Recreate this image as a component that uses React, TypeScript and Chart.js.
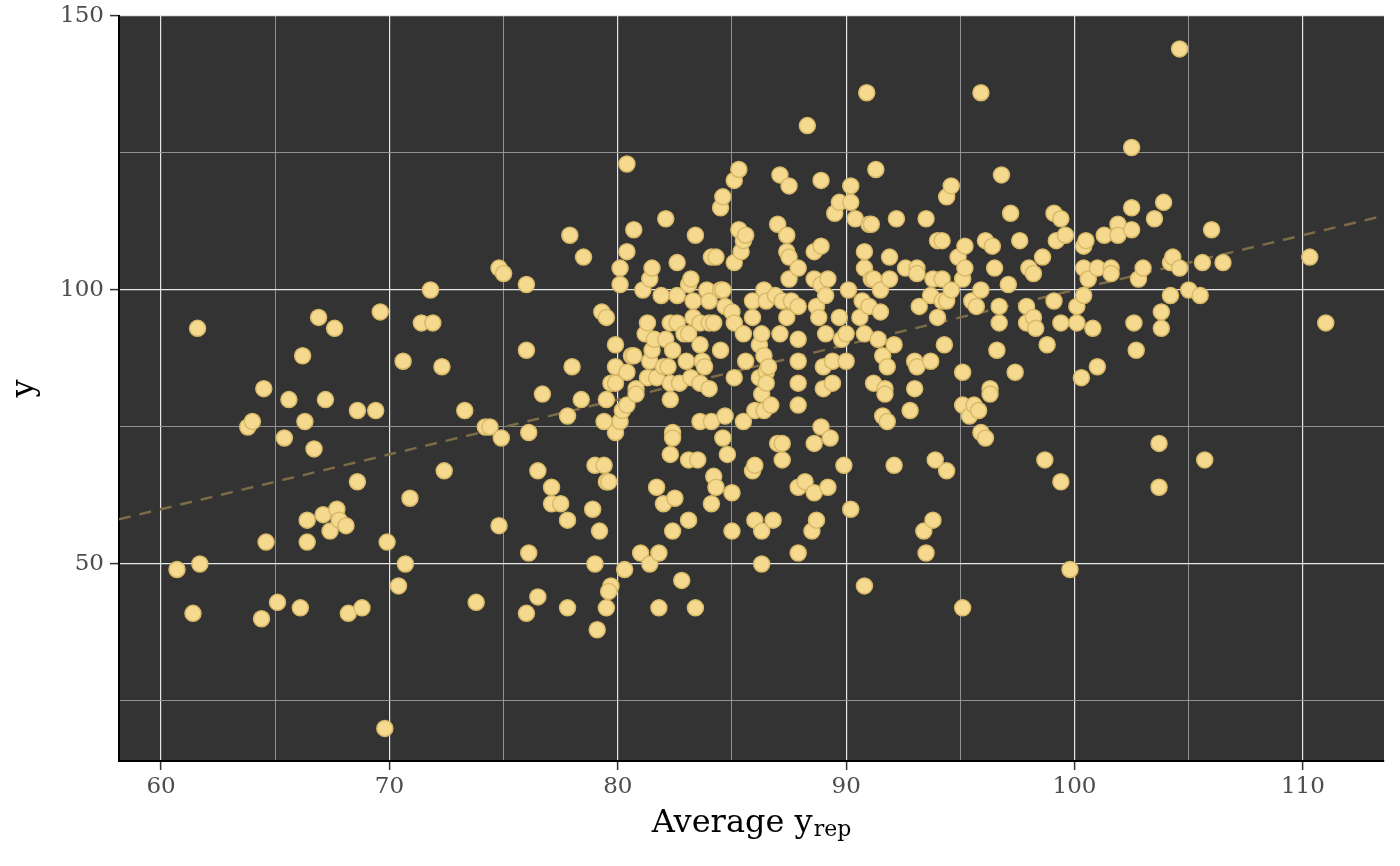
import { useEffect, useRef } from "react";
import { Chart, registerables } from "chart.js";

Chart.register(...registerables);

// Average y_rep (x) vs observed y, one pair per observation
const scatterPairs: [number, number][] = [
  [60.7, 49], [61.4, 41], [61.6, 93], [61.7, 50], [63.8, 75], [64.0, 76], [64.4, 40], [64.5, 82],
  [64.6, 54], [65.1, 43], [65.4, 73], [65.6, 80], [66.1, 42], [66.2, 88], [66.4, 58], [66.4, 54],
  [66.3, 76], [66.7, 71], [66.9, 95], [67.1, 59], [67.2, 80], [67.4, 56], [67.6, 93], [67.7, 60],
  [67.8, 58], [68.1, 57], [68.2, 41], [68.6, 65], [68.6, 78], [68.8, 42], [69.4, 78], [69.6, 96],
  [69.8, 20], [69.9, 54], [70.4, 46], [70.6, 87], [70.7, 50], [70.9, 62], [71.4, 94], [71.9, 94],
  [71.8, 100], [72.3, 86], [72.4, 67], [73.3, 78], [73.8, 43], [74.2, 75], [74.4, 75], [74.8, 104],
  [75.0, 103], [74.9, 73], [74.8, 57],
  [76.0, 101], [76.0, 89], [76.7, 81], [76.1, 74], [76.5, 67], [76.1, 52], [76.5, 44], [76.0, 41],
  [77.1, 64], [77.1, 61], [77.5, 61], [77.8, 58], [77.8, 77], [77.8, 42], [77.9, 110], [78.0, 86],
  [78.4, 80], [78.5, 106], [78.9, 60], [79.0, 68], [79.0, 50], [79.1, 38], [79.2, 56], [79.3, 96],
  [79.5, 95], [79.4, 68], [79.5, 65], [79.6, 65], [79.5, 80], [79.4, 76], [79.9, 74], [79.5, 42],
  [79.7, 46], [79.6, 45], [79.7, 83], [79.9, 83], [79.9, 86], [79.9, 90],
  [80.1, 104], [80.1, 101], [80.1, 76], [80.2, 78], [80.3, 49], [80.4, 123], [80.4, 107], [80.4, 85],
  [80.4, 79], [80.6, 88], [80.7, 88], [80.7, 111], [80.8, 82], [80.8, 81], [81.0, 52], [81.1, 100],
  [81.2, 92], [81.3, 94], [81.3, 84], [81.4, 87], [81.4, 102], [81.4, 50], [81.5, 104], [81.5, 89],
  [81.6, 91], [81.7, 84], [81.7, 64], [81.8, 52], [81.8, 42], [81.9, 99], [82.0, 86], [82.0, 61],
  [82.1, 113], [82.1, 91], [82.2, 86], [82.3, 94], [82.3, 83], [82.3, 80], [82.3, 70], [82.4, 89],
  [82.4, 74], [82.4, 73], [82.4, 56], [82.5, 62], [82.6, 105], [82.6, 99], [82.6, 94], [82.7, 83],
  [82.8, 47], [82.9, 92], [83.1, 92], [83.1, 101], [83.1, 69], [83.1, 58], [83.2, 102], [83.2, 84],
  [83.3, 98], [83.3, 95], [83.4, 110], [83.4, 42], [83.5, 69], [83.6, 94], [83.6, 90], [83.6, 83],
  [83.6, 76], [83.7, 87], [83.8, 86], [83.9, 100], [83.0, 87], [84.0, 98], [84.0, 94], [84.0, 82],
  [84.1, 106], [84.1, 76], [84.1, 61], [84.2, 94], [84.2, 66], [84.3, 106], [84.3, 64], [84.5, 100],
  [84.5, 115], [84.5, 89], [84.6, 100], [84.6, 117], [84.6, 73], [84.7, 97], [84.7, 77], [84.8, 70],
  [85.0, 96], [85.0, 63], [85.0, 56],
  [85.1, 120], [85.1, 105], [85.1, 94], [85.1, 84], [85.3, 122], [85.3, 111], [85.4, 107], [85.5, 109],
  [85.5, 92], [85.5, 76], [85.6, 110], [85.6, 87], [85.9, 98], [85.9, 95], [85.9, 67], [86.0, 68],
  [86.0, 78], [86.0, 58], [86.2, 90], [86.2, 84], [86.3, 92], [86.3, 81], [86.3, 56], [86.3, 50],
  [86.4, 100], [86.4, 88], [86.4, 78], [86.5, 98], [86.5, 85], [86.5, 83], [86.6, 86], [86.7, 79],
  [86.8, 58], [86.9, 99], [87.0, 112], [87.0, 72], [87.1, 121], [87.1, 92], [87.2, 98], [87.2, 72],
  [87.2, 69], [87.4, 110], [87.4, 107], [87.4, 95], [87.5, 119], [87.5, 106], [87.6, 98], [87.5, 102],
  [87.9, 104], [87.9, 97], [87.9, 91], [87.9, 87], [87.9, 83], [87.9, 79], [87.9, 64], [87.9, 52],
  [88.2, 65], [88.3, 130], [88.5, 56], [88.6, 107], [88.6, 102], [88.6, 72], [88.6, 63], [88.7, 97],
  [88.7, 58], [88.8, 95], [88.9, 120], [88.9, 108], [88.9, 101], [88.9, 75], [89.0, 86], [89.0, 82],
  [89.1, 99], [89.1, 92], [89.2, 102], [89.2, 64], [89.3, 73], [89.4, 87], [89.4, 83], [89.5, 114],
  [89.7, 116], [89.7, 95], [89.8, 91], [89.9, 68],
  [90.0, 92], [90.0, 87], [90.1, 100], [90.2, 119], [90.2, 116], [90.2, 60], [90.4, 113], [90.6, 95],
  [90.7, 98], [90.8, 107], [90.8, 104], [90.8, 92], [90.8, 46], [90.9, 136], [91.0, 112], [91.0, 97],
  [91.1, 112], [91.1, 102], [91.2, 102], [91.2, 83], [91.3, 122], [91.4, 91], [91.5, 100], [91.5, 96],
  [91.6, 88], [91.6, 77], [91.7, 82], [91.7, 81], [91.8, 86], [91.8, 76], [91.9, 106], [91.9, 102],
  [92.1, 90], [92.1, 68], [92.2, 113], [92.6, 104], [92.8, 78], [93.0, 87], [93.0, 82], [93.1, 104],
  [93.1, 103], [93.1, 86], [93.2, 97], [93.4, 56], [93.5, 113], [93.5, 52], [93.7, 99], [93.7, 87],
  [93.8, 102], [93.8, 58], [93.9, 69], [94.0, 109], [94.0, 95], [94.2, 109], [94.2, 102], [94.2, 98],
  [94.3, 90], [94.4, 117], [94.4, 98], [94.4, 67], [94.6, 119], [94.6, 100], [94.9, 106],
  [95.1, 102], [95.1, 85], [95.1, 79], [95.1, 42], [95.2, 108], [95.2, 104], [95.4, 77], [95.5, 98],
  [95.6, 79], [95.7, 97], [95.8, 78], [95.9, 136], [95.9, 100], [95.9, 74], [96.1, 109], [96.1, 73],
  [96.3, 82], [96.3, 81], [96.4, 108], [96.5, 104], [96.6, 89], [96.7, 97], [96.7, 94], [96.8, 121],
  [97.1, 101], [97.2, 114], [97.4, 85], [97.6, 109], [97.9, 97], [97.9, 94], [98.0, 104], [98.2, 103],
  [98.2, 95], [98.3, 93], [98.6, 106], [98.7, 69], [98.8, 90], [99.1, 114], [99.1, 98], [99.2, 109],
  [99.4, 113], [99.4, 94], [99.4, 65], [99.6, 110], [99.8, 49],
  [100.1, 97], [100.1, 94], [100.3, 84], [100.4, 108], [100.5, 109], [100.4, 104], [100.6, 102], [100.4, 99],
  [100.8, 93], [101.0, 104], [101.0, 86], [101.3, 110], [101.6, 104], [101.6, 103], [101.9, 112], [101.9, 110],
  [102.5, 111], [102.5, 126], [102.5, 115], [102.6, 94], [102.7, 89], [102.8, 102], [103.0, 104], [103.5, 113],
  [103.7, 72], [103.7, 64], [103.8, 96], [103.8, 93], [103.9, 116], [104.2, 105], [104.2, 99], [104.3, 106],
  [104.6, 104], [104.6, 144], [105.0, 100], [105.5, 99], [105.6, 105], [105.7, 69], [106.0, 111], [106.5, 105],
  [110.3, 106], [111.0, 94],
];

const xLimits = [58.16, 113.55];
const yLimits = [14.05, 150];
const xMajorTicks = [60, 70, 80, 90, 100, 110];
const yMajorTicks = [50, 100, 150];
const xStep = 5;
const yStep = 25;
// reference line y = x across the x range
const refLineX = [58.16, 113.55];

const FONT = '"DejaVu Serif", "Liberation Serif", serif';

export default function App() {
  const canvasRef = useRef<HTMLCanvasElement | null>(null);

  useEffect(() => {
    const canvas = canvasRef.current;
    if (!canvas) return;

    const panelBg = {
      id: "panelBg",
      beforeDraw(chart: any) {
        const { ctx, chartArea: a } = chart;
        ctx.save();
        ctx.fillStyle = "#333333";
        ctx.fillRect(a.left, a.top, a.right - a.left, a.bottom - a.top);
        ctx.restore();
      },
    };

    const titles = {
      id: "titles",
      afterDraw(chart: any) {
        const { ctx, chartArea: a } = chart;
        ctx.save();
        ctx.fillStyle = "#000000";
        ctx.textBaseline = "alphabetic";
        ctx.textAlign = "left";
        const main = "Average y";
        const sub = "rep";
        ctx.font = `32px ${FONT}`;
        const w1 = ctx.measureText(main).width;
        ctx.font = `22px ${FONT}`;
        const w2 = ctx.measureText(sub).width;
        const cx = (a.left + a.right) / 2;
        const start = cx - (w1 + 1 + w2) / 2;
        ctx.font = `32px ${FONT}`;
        ctx.fillText(main, start, 831.5);
        ctx.font = `22px ${FONT}`;
        ctx.fillText(sub, start + w1 + 1, 836);

        ctx.translate(32.5, (a.top + a.bottom) / 2);
        ctx.rotate(-Math.PI / 2);
        ctx.textAlign = "center";
        ctx.font = `32px ${FONT}`;
        ctx.fillText("y", 0, 0);
        ctx.restore();
      },
    };

    const isMajorX = (v: number) => xMajorTicks.some((t) => Math.abs(t - v) < 1e-6);
    const isMajorY = (v: number) => yMajorTicks.some((t) => Math.abs(t - v) < 1e-6);

    const chart = new Chart(canvas, {
      type: "scatter",
      data: {
        datasets: [
          {
            type: "scatter",
            data: scatterPairs.map(([x, y]) => ({ x, y })),
            backgroundColor: "#f5d98f",
            borderColor: "#d8ba68",
            borderWidth: 1.5,
            pointRadius: 8,
            order: 1,
          } as any,
          {
            type: "line",
            data: refLineX.map((x) => ({ x, y: x })),
            borderColor: "#7b6b47",
            borderWidth: 2.5,
            borderDash: [12, 9],
            pointRadius: 0,
            fill: false,
            showLine: true,
            order: 2,
          } as any,
        ],
      },
      options: {
        responsive: false,
        animation: false,
        devicePixelRatio: 1,
        events: [],
        layout: { padding: { top: 16, right: 16, left: 0, bottom: 0 } },
        plugins: { legend: { display: false }, tooltip: { enabled: false } },
        scales: {
          x: {
            type: "linear",
            min: xLimits[0],
            max: xLimits[1],
            afterFit: (s: any) => {
              s.height = 105;
              s.paddingLeft = 0;
              s.paddingRight = 0;
            },
            ticks: {
              stepSize: xStep,
              includeBounds: false,
              autoSkip: false,
              maxRotation: 0,
              padding: 3,
              color: "#4d4d4d",
              font: { family: FONT, size: 23 },
              callback: (v: any) => (isMajorX(Number(v)) ? String(v) : ""),
            },
            grid: {
              color: (c: any) => (c.tick && isMajorX(c.tick.value) ? "#e6e6e6" : "#9c9c9c"),
              lineWidth: (c: any) => (c.tick && isMajorX(c.tick.value) ? 1.2 : 0.9),
              tickColor: (c: any) => (c.tick && isMajorX(c.tick.value) ? "#333333" : "rgba(0,0,0,0)"),
              tickLength: 9,
              tickWidth: 1.5,
              drawTicks: true,
            },
            border: { display: true, color: "#000000", width: 2 },
          },
          y: {
            type: "linear",
            min: yLimits[0],
            max: yLimits[1],
            afterFit: (s: any) => {
              s.width = 119;
              s.paddingTop = 0;
              s.paddingBottom = 0;
            },
            ticks: {
              stepSize: yStep,
              includeBounds: false,
              autoSkip: false,
              padding: 6,
              color: "#4d4d4d",
              font: { family: FONT, size: 23 },
              callback: (v: any) => (isMajorY(Number(v)) ? String(v) : ""),
            },
            grid: {
              color: (c: any) => (c.tick && isMajorY(c.tick.value) ? "#e6e6e6" : "#9c9c9c"),
              lineWidth: (c: any) => (c.tick && isMajorY(c.tick.value) ? 1.2 : 0.9),
              tickColor: (c: any) => (c.tick && isMajorY(c.tick.value) ? "#333333" : "rgba(0,0,0,0)"),
              tickLength: 9,
              tickWidth: 1.5,
              drawTicks: true,
            },
            border: { display: true, color: "#000000", width: 2 },
          },
        },
      },
      plugins: [panelBg, titles],
    });

    return () => {
      chart.destroy();
    };
  }, []);

  return (
    <div style={{ position: "absolute", left: 0, top: 0, width: 1400, height: 866 }}>
      <canvas ref={canvasRef} width={1400} height={866} style={{ display: "block" }} />
    </div>
  );
}
